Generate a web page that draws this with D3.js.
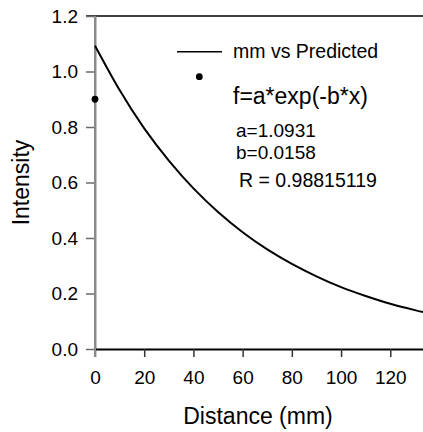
<!DOCTYPE html>
<html>
<head>
<meta charset="utf-8">
<script src="https://cdn.jsdelivr.net/npm/d3@7"></script>
<style>
    body { margin: 0; background: #fff; }
    text { font-family: "Liberation Sans", Arial, sans-serif; fill: #000; }
</style>
</head>
<body>
<div id="chart"></div>
<script>
// measured points (mm, intensity)
var pointX = [0]
var pointY = [0.90]

// fitted curve
var curveX = [0, 10, 20, 30, 40, 50, 60, 70, 80, 90, 100, 110, 120, 130, 133.3]
var curveY = [1.093, 0.933, 0.795, 0.679, 0.579, 0.494, 0.421, 0.359, 0.307, 0.262, 0.223, 0.191, 0.163, 0.140, 0.133]

var xTicks = [0, 20, 40, 60, 80, 100, 120]
var yTicks = [0.0, 0.2, 0.4, 0.6, 0.8, 1.0, 1.2]

var legendLabel = "mm vs Predicted"
var fitLines = ["f=a*exp(-b*x)", "a=1.0931", "b=0.0158", "R = 0.98815119"]

window.onload = function(){
    var width = 423, height = 432;
    var margin = {top: 16, right: 0, bottom: 83, left: 95};

    var svg = d3.select("#chart")
                .append("svg")
                .attr("width", width)
                .attr("height", height);

    var x = d3.scaleLinear()
              .domain([0, 133.3])
              .range([margin.left, width - margin.right]);
    var y = d3.scaleLinear()
              .domain([0, 1.2])
              .range([height - margin.bottom, margin.top]);

    // top frame line at 1.2
    svg.append("line")
        .attr("x1", x(0) - 9).attr("x2", width)
        .attr("y1", y(1.2)).attr("y2", y(1.2))
        .style("stroke", "#000")
        .style("stroke-width", 1.5);

    // y axis (grey)
    var yAxis = svg.append("g")
        .attr("transform", "translate(" + x(0) + ",0)")
        .call(d3.axisLeft(y).tickValues(yTicks).tickFormat(d3.format(".1f"))
            .tickSize(9).tickSizeOuter(0).tickPadding(8));
    yAxis.select(".domain").style("stroke", "#8a8a8a").style("stroke-width", 2);
    yAxis.selectAll(".tick line").style("stroke", "#6a6a6a").style("stroke-width", 1.5);
    yAxis.selectAll(".tick text")
        .style("font-size", "19px")
        .style("font-family", "'Liberation Sans', Arial, sans-serif")
        .attr("fill", "#000");

    // x axis
    var xAxis = svg.append("g")
        .attr("transform", "translate(0," + y(0) + ")")
        .call(d3.axisBottom(x).tickValues(xTicks)
            .tickSize(8).tickSizeOuter(0).tickPadding(14));
    xAxis.select(".domain").style("stroke", "#000").style("stroke-width", 2);
    xAxis.selectAll(".tick line").style("stroke", "#333").style("stroke-width", 1.5);
    xAxis.selectAll(".tick text")
        .style("font-size", "19px")
        .style("font-family", "'Liberation Sans', Arial, sans-serif")
        .attr("fill", "#000");
    // re-draw the grey y axis over the crossing
    svg.append("line")
        .attr("x1", x(0)).attr("x2", x(0))
        .attr("y1", y(1.2)).attr("y2", y(0) + 8)
        .style("stroke", "#8a8a8a")
        .style("stroke-width", 2);

    // fitted curve
    var line = d3.line()
                 .x(function(d, i){ return x(curveX[i]); })
                 .y(function(d){ return y(d); })
                 .curve(d3.curveNatural);
    svg.append("path")
        .datum(curveY)
        .attr("d", line)
        .style("fill", "none")
        .style("stroke", "#000")
        .style("stroke-width", 2);

    // data points
    svg.selectAll(".pt")
        .data(pointY)
        .enter()
        .append("circle")
        .attr("class", "pt")
        .attr("cx", function(d, i){ return x(pointX[i]); })
        .attr("cy", function(d){ return y(d); })
        .attr("r", 3.4)
        .style("fill", "#000");

    // legend
    svg.append("line")
        .attr("x1", 177).attr("x2", 222)
        .attr("y1", 51.7).attr("y2", 51.7)
        .style("stroke", "#000")
        .style("stroke-width", 1.5);
    svg.append("text")
        .attr("x", 233).attr("y", 58.3)
        .style("font-size", "19.5px")
        .text(legendLabel);
    svg.append("circle")
        .attr("cx", 199.3).attr("cy", 76.7)
        .attr("r", 3.4)
        .style("fill", "#000");

    // fit annotation
    var fitPos = [[233, 104, 23], [236, 136.7, 19], [236, 159, 19], [239, 186.7, 19.5]];
    svg.selectAll(".fit")
        .data(fitLines)
        .enter()
        .append("text")
        .attr("class", "fit")
        .attr("x", function(d, i){ return fitPos[i][0]; })
        .attr("y", function(d, i){ return fitPos[i][1]; })
        .style("font-size", function(d, i){ return fitPos[i][2] + "px"; })
        .text(function(d){ return d; });

    // axis titles
    svg.append("text")
        .attr("x", 258).attr("y", 424)
        .attr("text-anchor", "middle")
        .style("font-size", "23px")
        .text("Distance (mm)");
    svg.append("text")
        .attr("transform", "translate(28.5," + ((y(0) + y(1.2)) / 2) + ") rotate(-90)")
        .attr("text-anchor", "middle")
        .style("font-size", "23px")
        .text("Intensity");
};
</script>
</body>
</html>
